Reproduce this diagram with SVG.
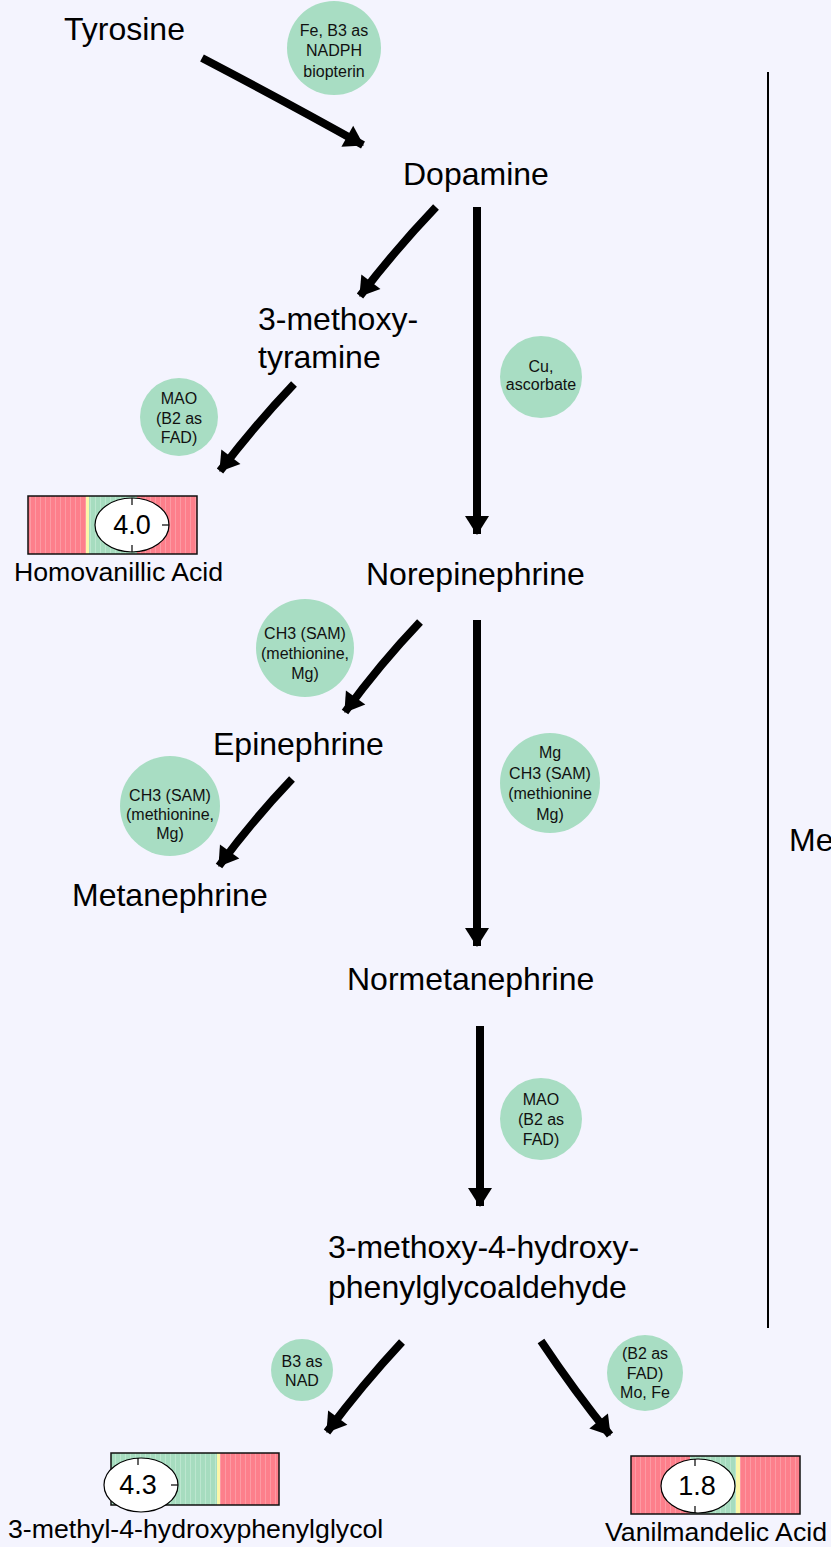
<svg xmlns="http://www.w3.org/2000/svg" width="831" height="1547" viewBox="0 0 831 1547">
<defs>
<style>
.big{font-family:"Liberation Sans",Arial,sans-serif;font-size:32px;fill:#000}
.lab{font-family:"Liberation Sans",Arial,sans-serif;font-size:26.7px;fill:#000}
.co{font-family:"Liberation Sans",Arial,sans-serif;font-size:16px;fill:#111;text-anchor:middle}
.val{font-family:"Liberation Sans",Arial,sans-serif;font-size:27px;fill:#000;text-anchor:middle}
.cof{fill:#a8ddc3}
.arr{fill:none;stroke:#000;stroke-width:8;marker-end:url(#ah)}
.red{fill:url(#pr)}
.grn{fill:url(#pg)}
.yel{fill:#fbf7a8}
.frame{fill:none;stroke:#111;stroke-width:1.5}
.ell{fill:#fff;stroke:#000;stroke-width:1.2}
.tick{stroke:#000;stroke-width:1.2}
</style>
<marker id="ah" markerUnits="userSpaceOnUse" markerWidth="28" markerHeight="28" viewBox="0 0 28 28" refX="20" refY="14" orient="auto">
<path d="M2,2 L21,14 L2,26 Z" fill="#000"/>
</marker>
<pattern id="pr" width="5" height="10" patternUnits="userSpaceOnUse">
<rect width="5" height="10" fill="#fd7f8b"/>
<rect width="1" height="10" fill="#fc9aa3"/>
</pattern>
<pattern id="pg" width="5" height="10" patternUnits="userSpaceOnUse">
<rect width="5" height="10" fill="#a6dcbf"/>
<rect width="1" height="10" fill="#bce6cf"/>
</pattern>
</defs>
<rect width="831" height="1547" fill="#f4f4fe"/>

<g id="connectors">
<path class="arr" d="M202,58 Q290,104 363,145"/>
<path class="arr" d="M436,207 Q395,250 360,296"/>
<path class="arr" d="M477,207 L477,534"/>
<path class="arr" d="M294,384 Q255,425 220,471"/>
<path class="arr" d="M420,622 Q380,664 345,712"/>
<path class="arr" d="M477,620 L477,946"/>
<path class="arr" d="M292,779 Q252,821 219,866"/>
<path class="arr" d="M480,1026 L480,1206"/>
<path class="arr" d="M402,1342 Q362,1385 327,1432"/>
<path class="arr" d="M541,1341 Q575,1392 610,1435"/>
<line x1="768" y1="72" x2="768" y2="1328" stroke="#000" stroke-width="2"/>
</g>

<g id="tyrosine"><text class="big" x="64" y="40">Tyrosine</text></g>
<g id="dopamine"><text class="big" x="403" y="185">Dopamine</text></g>
<g id="methoxytyramine"><text class="big" x="258" y="330">3-methoxy-</text><text class="big" x="258" y="368">tyramine</text></g>
<g id="norepinephrine"><text class="big" x="366" y="585">Norepinephrine</text></g>
<g id="epinephrine"><text class="big" x="213" y="755">Epinephrine</text></g>
<g id="metanephrine"><text class="big" x="72" y="906">Metanephrine</text></g>
<g id="normetanephrine"><text class="big" x="347" y="990">Normetanephrine</text></g>
<g id="mhpg-aldehyde"><text class="big" x="328" y="1258">3-methoxy-4-hydroxy-</text><text class="big" x="328" y="1298">phenylglycoaldehyde</text></g>
<g id="me"><text class="big" x="789" y="851">Me</text></g>

<g id="cof1"><circle class="cof" cx="334" cy="48" r="47"/><text class="co" x="334" y="36">Fe, B3 as</text><text class="co" x="334" y="56">NADPH</text><text class="co" x="334" y="77">biopterin</text></g>
<g id="cof2"><circle class="cof" cx="541" cy="377" r="41"/><text class="co" x="541" y="372">Cu,</text><text class="co" x="541" y="390">ascorbate</text></g>
<g id="cof3"><circle class="cof" cx="179" cy="417" r="39"/><text class="co" x="179" y="404">MAO</text><text class="co" x="179" y="424">(B2 as</text><text class="co" x="179" y="443">FAD)</text></g>
<g id="cof4"><circle class="cof" cx="305" cy="648" r="49"/><text class="co" x="305" y="639">CH3 (SAM)</text><text class="co" x="305" y="659">(methionine,</text><text class="co" x="305" y="679">Mg)</text></g>
<g id="cof5"><circle class="cof" cx="170" cy="806" r="50"/><text class="co" x="170" y="801">CH3 (SAM)</text><text class="co" x="170" y="820">(methionine,</text><text class="co" x="170" y="839">Mg)</text></g>
<g id="cof6"><circle class="cof" cx="550" cy="783" r="50"/><text class="co" x="550" y="758">Mg</text><text class="co" x="550" y="779">CH3 (SAM)</text><text class="co" x="550" y="799">(methionine</text><text class="co" x="550" y="820">Mg)</text></g>
<g id="cof7"><circle class="cof" cx="541" cy="1119" r="41"/><text class="co" x="541" y="1105">MAO</text><text class="co" x="541" y="1125">(B2 as</text><text class="co" x="541" y="1145">FAD)</text></g>
<g id="cof8"><circle class="cof" cx="302" cy="1370" r="31"/><text class="co" x="302" y="1367">B3 as</text><text class="co" x="302" y="1386">NAD</text></g>
<g id="cof9"><circle class="cof" cx="645" cy="1373" r="38"/><text class="co" x="645" y="1359">(B2 as</text><text class="co" x="645" y="1379">FAD)</text><text class="co" x="645" y="1398">Mo, Fe</text></g>

<g id="homovanillic">
<rect class="red" x="28" y="496" width="58" height="58"/>
<rect class="yel" x="86" y="496" width="3" height="58"/>
<rect class="grn" x="89" y="496" width="48" height="58"/>
<rect class="red" x="137" y="496" width="60" height="58"/>
<rect class="frame" x="28" y="496" width="169" height="58"/>
<ellipse class="ell" cx="132" cy="525" rx="37" ry="27"/>
<line class="tick" x1="132" y1="498" x2="132" y2="505"/>
<line class="tick" x1="132" y1="545" x2="132" y2="552"/>
<line class="tick" x1="162" y1="525" x2="169" y2="525"/>
<text class="val" x="132" y="534">4.0</text>
<text class="lab" x="14" y="581">Homovanillic Acid</text>
</g>

<g id="mhpg">
<rect class="grn" x="111" y="1453" width="106" height="52"/>
<rect class="yel" x="217" y="1453" width="3" height="52"/>
<rect class="red" x="220" y="1453" width="59" height="52"/>
<rect class="frame" x="111" y="1453" width="168" height="52"/>
<ellipse class="ell" cx="141" cy="1485" rx="37" ry="27"/>
<line class="tick" x1="138" y1="1458" x2="138" y2="1465"/>
<line class="tick" x1="171" y1="1485" x2="178" y2="1485"/>
<text class="val" x="138" y="1494">4.3</text>
<text class="lab" x="8" y="1538">3-methyl-4-hydroxyphenylglycol</text>
</g>

<g id="vanilmandelic">
<rect class="red" x="631" y="1456" width="59" height="58"/>
<rect class="grn" x="690" y="1456" width="46" height="58"/>
<rect class="yel" x="736" y="1456" width="4" height="58"/>
<rect class="red" x="740" y="1456" width="60" height="58"/>
<rect class="frame" x="631" y="1456" width="169" height="58"/>
<ellipse class="ell" cx="698" cy="1486" rx="37" ry="27"/>
<line class="tick" x1="695" y1="1459" x2="695" y2="1466"/>
<line class="tick" x1="695" y1="1506" x2="695" y2="1513"/>
<text class="val" x="697" y="1495">1.8</text>
<text class="lab" x="605" y="1541">Vanilmandelic Acid</text>
</g>
</svg>
